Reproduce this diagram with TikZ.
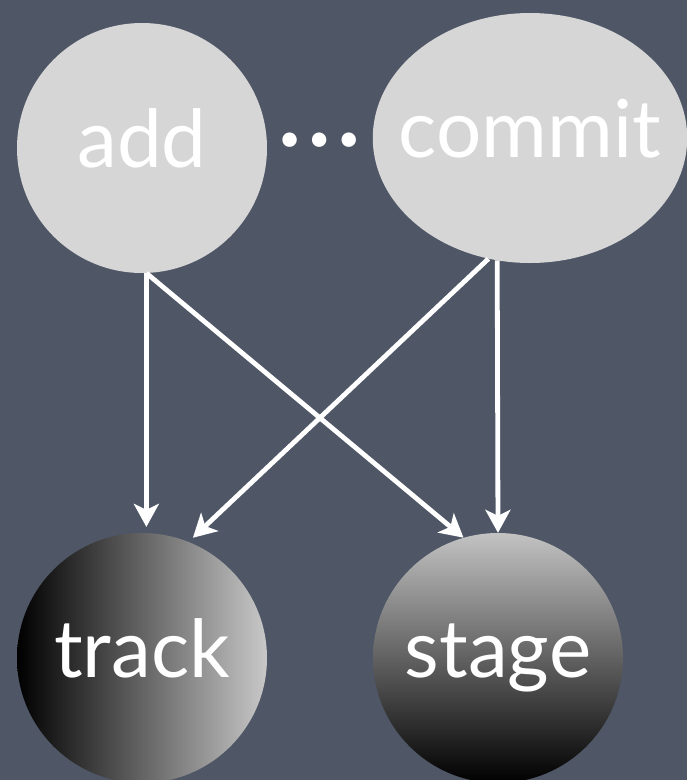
\documentclass[tikz,border=0pt]{standalone}
\usepackage{fontspec}
\setmainfont{Lato}
\usetikzlibrary{arrows.meta,shapes.geometric}
\definecolor{Slate}{HTML}{4F5666}
\definecolor{Pale}{HTML}{D6D6D6}
\definecolor{Silver}{HTML}{C8C8C8}

\tikzset{
  bubble/.style={ellipse,inner ysep=0pt,inner xsep=-12pt,text=white,text height=38pt,text depth=0pt,
    minimum width=250pt,minimum height=250pt,font=\fontsize{80}{90}\selectfont},
  flow/.style={white,line width=4.8pt,-{Stealth[length=23pt,width=25pt,inset=6pt]}}
}

\begin{document}
\begin{tikzpicture}[x=1pt,y=-1pt]
    \useasboundingbox (0,0) rectangle (687,780);
    \fill[Slate] (0,0) rectangle (687,780);

    \node[bubble,fill=Pale] (add) at (142,148) {add};
    \node[bubble,fill=Pale,inner xsep=-20pt,minimum width=314pt] (commit) at (530,138) {commit};
    \node[text=white,inner sep=0pt,font=\fontsize{115}{120}\selectfont] (dots) at (320,140) {…};

    \node[bubble,left color=black,right color=Silver] (track) at (142,658) {track};
    \node[bubble,top color=Silver!110,bottom color=black] (stage) at (498,658) {stage};

    \draw[flow] (add.-88) -- ([yshift=6pt]track.88);
    \draw[flow] (add.-88) -- (stage.106);
    \draw[flow] (commit.-109) -- ([yshift=5pt,xshift=2pt]track.67);
    \draw[flow] (commit.-105) -- (stage.90);
  \end{tikzpicture}
\end{document}
